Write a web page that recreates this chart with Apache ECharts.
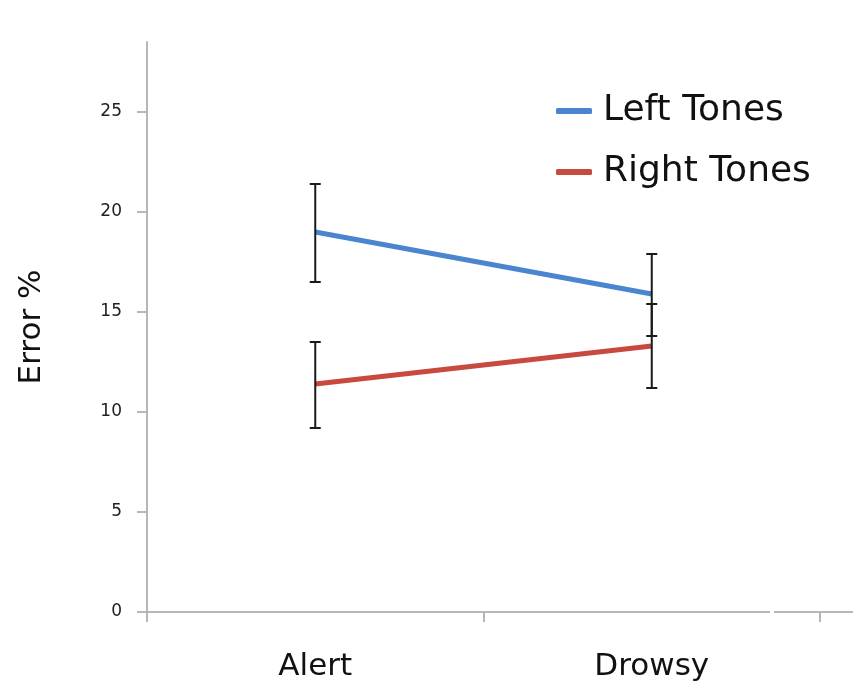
<!DOCTYPE html>
<html>
<head>
<meta charset="utf-8">
<script src="https://cdn.jsdelivr.net/npm/echarts@6/dist/echarts.min.js"></script>
<style>
html,body{margin:0;padding:0;background:#fff;}
#main{width:853px;height:689px;}
</style>
</head>
<body>
<div id="main"></div>
<script>
var categories = ['Alert', 'Drowsy'];
var seriesNames = ['Left Tones', 'Right Tones'];
var leftMean = [19.0, 15.9];
var leftLow = [16.5, 13.8];
var leftHigh = [21.4, 17.9];
var rightMean = [11.4, 13.3];
var rightLow = [9.2, 11.2];
var rightHigh = [13.5, 15.4];
var yTicks = [0, 5, 10, 15, 20, 25];

var FONT = '"DejaVu Sans"';
var chart = echarts.init(document.getElementById('main'), null, {renderer: 'canvas'});

function errData(low, high) {
  return categories.map(function (c, i) { return [i, low[i], high[i]]; });
}
function renderErr(params, api) {
  var x = api.value(0);
  var lo = api.coord([x, api.value(1)]);
  var hi = api.coord([x, api.value(2)]);
  var cw = 5.5;
  var st = {stroke: '#1a1a1a', lineWidth: 2};
  return {
    type: 'group',
    children: [
      {type: 'line', shape: {x1: lo[0], y1: lo[1], x2: hi[0], y2: hi[1]}, style: st},
      {type: 'line', shape: {x1: lo[0] - cw, y1: lo[1], x2: lo[0] + cw, y2: lo[1]}, style: st},
      {type: 'line', shape: {x1: hi[0] - cw, y1: hi[1], x2: hi[0] + cw, y2: hi[1]}, style: st}
    ]
  };
}

var axisGrey = '#b7b7b7';
chart.setOption({
  backgroundColor: '#ffffff',
  animation: false,
  textStyle: {fontFamily: FONT},
  grid: {left: 147, right: 33, top: 42, bottom: 77},
  legend: {
    orient: 'vertical',
    left: 551,
    top: 88,
    icon: 'roundRect',
    itemWidth: 36,
    itemHeight: 6,
    itemGap: 25,
    data: seriesNames,
    textStyle: {fontFamily: FONT, fontSize: 36, color: '#111', padding: [0, 0, 0, 6]}
  },
  xAxis: {
    type: 'category',
    data: categories,
    boundaryGap: true,
    axisLine: {lineStyle: {color: axisGrey, width: 2}},
    axisTick: {show: true, length: 10, lineStyle: {color: axisGrey, width: 2}},
    axisLabel: {fontFamily: FONT, fontSize: 31, color: '#111', margin: 39},
    splitLine: {show: false}
  },
  yAxis: {
    type: 'value',
    min: 0,
    max: 28.5,
    interval: 5,
    name: 'Error %',
    nameLocation: 'middle',
    nameGap: 100,
    nameRotate: 90,
    nameTextStyle: {fontFamily: FONT, fontSize: 31, color: '#111'},
    axisLine: {show: true, lineStyle: {color: axisGrey, width: 2}},
    axisTick: {show: true, length: 10, customValues: yTicks, lineStyle: {color: axisGrey, width: 2}},
    axisLabel: {fontFamily: FONT, fontSize: 17, color: '#222', margin: 25, customValues: yTicks},
    splitLine: {show: false}
  },
  graphic: [
    {type: 'line', shape: {x1: 820, y1: 612, x2: 853, y2: 612}, style: {stroke: axisGrey, lineWidth: 2}, z: 10},
    {type: 'rect', shape: {x: 770, y: 609, width: 4, height: 6}, style: {fill: '#ffffff'}, z: 11}
  ],
  series: [
    {
      name: seriesNames[0], type: 'line', data: leftMean, symbol: 'none',
      itemStyle: {color: '#4a86cf'}, lineStyle: {color: '#4a86cf', width: 5}, z: 2
    },
    {
      name: seriesNames[1], type: 'line', data: rightMean, symbol: 'none',
      itemStyle: {color: '#c8493e'}, lineStyle: {color: '#c8493e', width: 5}, z: 2
    },
    {type: 'custom', renderItem: renderErr, data: errData(leftLow, leftHigh), z: 5, silent: true},
    {type: 'custom', renderItem: renderErr, data: errData(rightLow, rightHigh), z: 5, silent: true}
  ]
});
</script>
</body>
</html>
